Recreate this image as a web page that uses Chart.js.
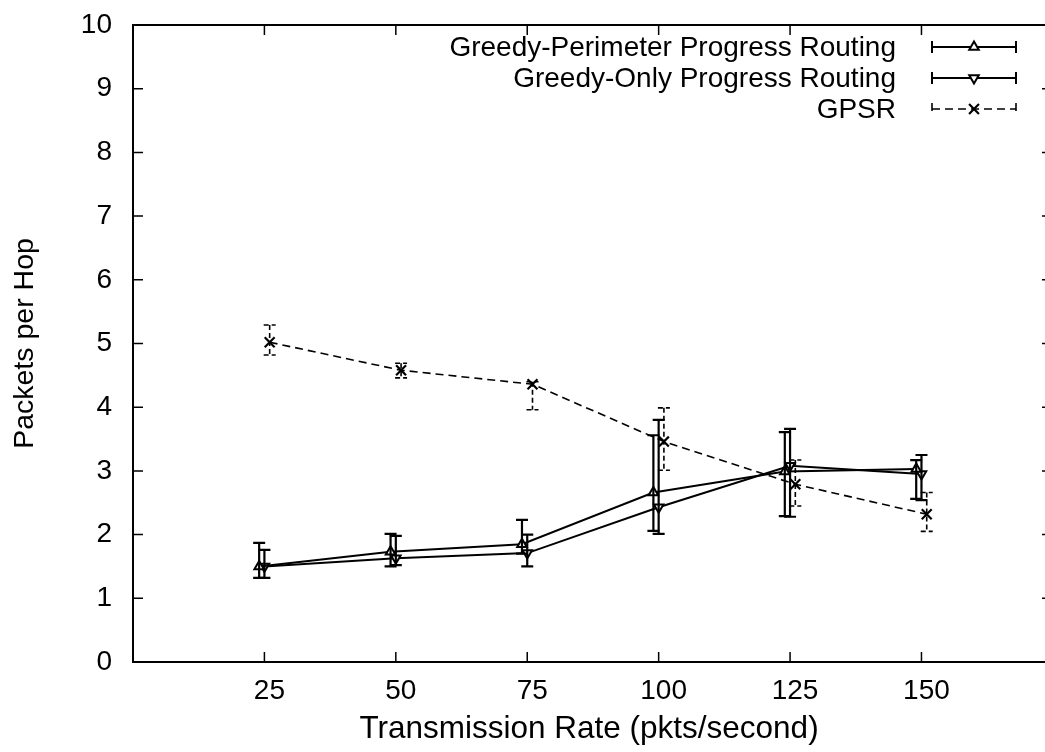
<!DOCTYPE html>
<html>
<head>
<title>Packets per Hop</title>
<script src="https://cdn.jsdelivr.net/npm/chart.js@4.4.1/dist/chart.umd.min.js"></script>
<style>
  html, body { margin: 0; padding: 0; background: #fff; overflow: hidden; }
  #container { width: 1045px; height: 752px; }
</style>
</head>
<body>
<div id="container">
  <canvas id="canvas" width="1045" height="752"></canvas></div>
<script>

// x positions (points of each series are slightly offset, as in the original plot)
var gpX   = [24, 49, 74, 99, 124, 149];
var goX   = [25, 50, 75, 100, 125, 150];
var gpsrX = [26, 51, 76, 101, 126, 151];

// Greedy-Perimeter Progress Routing
var gpY  = [1.50, 1.73, 1.85, 2.66, 2.99, 3.03];
var gpLo = [1.32, 1.50, 1.70, 2.06, 2.29, 2.56];
var gpHi = [1.87, 2.01, 2.23, 3.56, 3.61, 3.17];

// Greedy-Only Progress Routing
var goY  = [1.50, 1.63, 1.71, 2.43, 3.08, 2.95];
var goLo = [1.32, 1.52, 1.50, 2.01, 2.28, 2.54];
var goHi = [1.76, 1.98, 2.00, 3.80, 3.66, 3.25];

// GPSR
var gpsrY  = [5.02, 4.58, 4.36, 3.46, 2.79, 2.32];
var gpsrLo = [4.82, 4.46, 3.96, 3.01, 2.45, 2.05];
var gpsrHi = [5.29, 4.69, 4.40, 3.99, 3.17, 2.66];

var xTicks = [25, 50, 75, 100, 125, 150];
var yTicks = [0, 1, 2, 3, 4, 5, 6, 7, 8, 9, 10];

var seriesNames = ['Greedy-Perimeter Progress Routing', 'Greedy-Only Progress Routing', 'GPSR'];

var fontFamily = "'Liberation Sans', 'Helvetica', sans-serif";

function points(xs, ys) {
  var out = [];
  for (var i = 0; i < xs.length; i++) out.push({ x: xs[i], y: ys[i] });
  return out;
}

var measures = [
  { label: seriesNames[0], data: points(gpX, gpY), lo: gpLo, hi: gpHi,
    borderColor: '#000', borderWidth: 2, pointStyle: 'triangle', pointRotation: 0,
    pointRadius: 5.5, pointBorderWidth: 2, pointBackgroundColor: '#fff', pointBorderColor: '#000',
    dash: [] },
  { label: seriesNames[1], data: points(goX, goY), lo: goLo, hi: goHi,
    borderColor: '#000', borderWidth: 2, pointStyle: 'triangle', pointRotation: 180,
    pointRadius: 5.5, pointBorderWidth: 2, pointBackgroundColor: '#fff', pointBorderColor: '#000',
    dash: [] },
  { label: seriesNames[2], data: points(gpsrX, gpsrY), lo: gpsrLo, hi: gpsrHi,
    borderColor: '#000', borderWidth: 1.6, borderDash: [8, 5], pointStyle: 'crossRot',
    pointRadius: 7, pointBorderWidth: 2.2, pointBorderColor: '#000',
    dash: [5, 3] }
];
measures.forEach(function (m) { m.fill = false; m.tension = 0; m.borderDash = m.borderDash || []; });

// error bars, drawn through the chart scales
var errorBars = {
  id: 'errorBars',
  afterDatasetsDraw: function (chart) {
    var ctx = chart.ctx, xs = chart.scales.x, ys = chart.scales.y;
    chart.data.datasets.forEach(function (ds) {
      ctx.save();
      ctx.strokeStyle = '#000';
      ctx.lineWidth = ds.dash.length ? 1.6 : 2.2;
      ctx.setLineDash(ds.dash);
      ds.data.forEach(function (p, i) {
        var px = xs.getPixelForValue(p.x);
        var top = ys.getPixelForValue(ds.hi[i]);
        var bot = ys.getPixelForValue(ds.lo[i]);
        ctx.beginPath();
        ctx.moveTo(px, top); ctx.lineTo(px, bot);
        ctx.moveTo(px - 6, top); ctx.lineTo(px + 6, top);
        ctx.moveTo(px - 6, bot); ctx.lineTo(px + 6, bot);
        ctx.stroke();
      });
      ctx.restore();
    });
  }
};

// gnuplot style frame with inward ticks (right side runs off the picture)
var frame = {
  id: 'frame',
  afterDraw: function (chart) {
    var ctx = chart.ctx, a = chart.chartArea, xs = chart.scales.x, ys = chart.scales.y;
    var right = chart.width;
    ctx.save();
    ctx.strokeStyle = '#000';
    ctx.lineWidth = 2;
    ctx.setLineDash([]);
    ctx.beginPath();
    ctx.moveTo(right, a.top); ctx.lineTo(a.left, a.top);
    ctx.lineTo(a.left, a.bottom); ctx.lineTo(right, a.bottom);
    ctx.stroke();
    ctx.lineWidth = 1.5;
    ctx.beginPath();
    xTicks.forEach(function (v) {
      var px = xs.getPixelForValue(v);
      ctx.moveTo(px, a.bottom); ctx.lineTo(px, a.bottom - 10);
      ctx.moveTo(px, a.top); ctx.lineTo(px, a.top + 10);
    });
    yTicks.forEach(function (v) {
      var py = ys.getPixelForValue(v);
      ctx.moveTo(a.left, py); ctx.lineTo(a.left + 10, py);
      ctx.moveTo(right, py); ctx.lineTo(right - 3, py);
    });
    ctx.stroke();
    ctx.restore();
  }
};

// gnuplot style key: right aligned text, sample line to the right
var key = {
  id: 'key',
  afterDraw: function (chart) {
    var ctx = chart.ctx;
    var textRight = 896, x0 = 932, x1 = 1016, y0 = 47, dy = 31;
    ctx.save();
    ctx.font = '28px ' + fontFamily;
    ctx.textAlign = 'right';
    ctx.textBaseline = 'middle';
    chart.data.datasets.forEach(function (ds, i) {
      var y = y0 + i * dy;
      ctx.fillStyle = '#000';
      ctx.fillText(ds.label, textRight, y + 1);
      ctx.strokeStyle = '#000';
      ctx.lineWidth = ds.dash.length ? 1.6 : 2;
      ctx.setLineDash(ds.borderDash);
      ctx.beginPath();
      ctx.moveTo(x0, y); ctx.lineTo(x1, y);
      ctx.moveTo(x0, y - 6); ctx.lineTo(x0, y + 6);
      ctx.moveTo(x1, y - 6); ctx.lineTo(x1, y + 6);
      ctx.stroke();
      ctx.setLineDash([]);
      ctx.fillStyle = '#fff';
      ctx.lineWidth = ds.pointBorderWidth;
      Chart.helpers.drawPoint(ctx, {
        pointStyle: ds.pointStyle, rotation: ds.pointRotation || 0,
        radius: ds.pointRadius, borderWidth: ds.pointBorderWidth
      }, (x0 + x1) / 2, y);
    });
    ctx.restore();
  }
};

var ctx = document.getElementById('canvas').getContext('2d');
window.myChart = new Chart(ctx, {
  type: 'line',
  data: { datasets: measures },
  plugins: [errorBars, frame, key],
  options: {
    responsive: false,
    animation: false,
    layout: { autoPadding: false, padding: { left: 0, right: 0, top: 25, bottom: 4 } },
    plugins: { legend: { display: false }, tooltip: { enabled: false } },
    elements: { line: { fill: false } },
    scales: {
      x: {
        type: 'linear', min: 0, max: 173.5,
        afterFit: function (s) { s.height = 86; s.paddingLeft = 0; s.paddingRight = 0; },
        afterBuildTicks: function (s) { s.ticks = xTicks.map(function (v) { return { value: v }; }); },
        grid: { display: false, drawTicks: false },
        border: { display: false },
        ticks: { color: '#000', font: { size: 28, family: fontFamily }, padding: 12, maxRotation: 0, labelOffset: 5 },
        title: { display: true, text: 'Transmission Rate (pkts/second)', color: '#000',
                 font: { size: 31.5, family: fontFamily }, padding: { top: 4, bottom: 0 } }
      },
      y: {
        min: 0, max: 10,
        afterFit: function (s) { s.width = 133; s.paddingTop = 0; s.paddingBottom = 0; },
        afterBuildTicks: function (s) { s.ticks = yTicks.map(function (v) { return { value: v }; }); },
        grid: { display: false, drawTicks: false },
        border: { display: false },
        ticks: { color: '#000', font: { size: 28, family: fontFamily }, padding: 21 },
        title: { display: true, text: 'Packets per Hop', color: '#000',
                 font: { size: 28.5, family: fontFamily }, padding: { top: 8, bottom: 0 } }
      }
    }
  }
});

</script>
</body>
</html>
